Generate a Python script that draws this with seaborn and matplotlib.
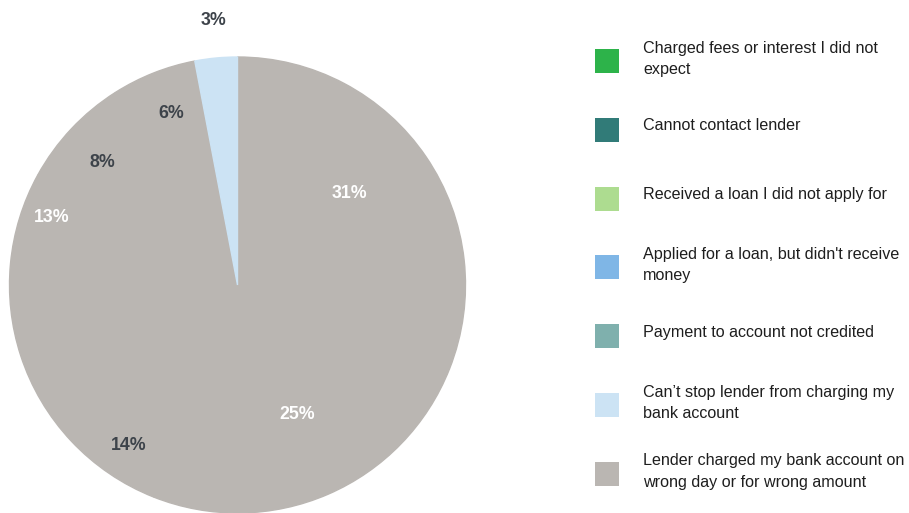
"""Pie chart of reported lender problems, with a hand-laid legend on the right."""

import matplotlib

matplotlib.use("Agg")
import matplotlib.pyplot as plt  # noqa: E402
import numpy as np  # noqa: E402
import seaborn as sns  # noqa: E402
from matplotlib.patches import Rectangle  # noqa: E402

sns.set_theme(style="white")
plt.rcParams["font.family"] = ["Liberation Sans", "DejaVu Sans"]

CATEGORIES = [
    "Charged fees or interest I did not\nexpect",
    "Cannot contact lender",
    "Received a loan I did not apply for",
    "Applied for a loan, but didn't receive\nmoney",
    "Payment to account not credited",
    "Can\u2019t stop lender from charging my\nbank account",
    "Lender charged my bank account on\nwrong day or for wrong amount",
]
LEGEND_COLORS = ["#2db34a", "#317b78", "#addc90", "#7fb6e6", "#7fb0ad", "#cce3f4", "#bab6b2"]

# slice values, clockwise from 12 o'clock
SHARES = [31, 25, 14, 13, 8, 6, 3]
SLICE_COLORS = ["#bab6b2"] * 6 + ["#cce3f4"]

# label styling (radius as fraction of pie radius, small angular nudge in degrees)
LABEL_COLORS = ["white", "white", "#3d434a", "white", "#3d434a", "#3d434a", "#3d434a"]
LABEL_RADIUS = [0.634, 0.627, 0.848, 0.865, 0.80, 0.805, 1.163]
LABEL_NUDGE = [-5.3, -1.2, -12.7, 14.5, -1.2, 0.3, 0.3]

W, H = 909, 513
fig = plt.figure(figsize=(W / 100, H / 100), dpi=100)

ax = fig.add_axes([9 / W, 0, 457 / W, 456 / H])
wedges, _ = ax.pie(SHARES, colors=SLICE_COLORS, startangle=90, counterclock=False,
                   wedgeprops=dict(linewidth=1))
for w in wedges:
    w.set_edgecolor(w.get_facecolor())
ax.set_xlim(-1, 1)
ax.set_ylim(-1, 1)
ax.set_aspect("equal")
ax.axis("off")

cum = np.cumsum([0] + SHARES[:-1])
total = sum(SHARES)
for share, start, col, rad, nudge in zip(SHARES, cum, LABEL_COLORS, LABEL_RADIUS, LABEL_NUDGE):
    theta = np.deg2rad((start + share / 2) / total * 360 + nudge)
    ax.text(rad * np.sin(theta), rad * np.cos(theta), f"{share}%",
            ha="center", va="center", fontsize=12.8, fontweight="bold",
            color=col, clip_on=False)

# legend
lax = fig.add_axes([0, 0, 1, 1])
lax.set_xlim(0, W)
lax.set_ylim(H, 0)
lax.axis("off")
for i, (label, col) in enumerate(zip(CATEGORIES, LEGEND_COLORS)):
    cy = 61 + i * 68.8
    lax.add_patch(Rectangle((595, cy - 12), 24, 24, color=col, linewidth=0))
    lax.text(643, cy - 4 if "\n" not in label else cy - 2, label, ha="left",
             va="center", fontsize=11.6, color="#1e1e1e",
             linespacing=1.6 if i == 6 else 1.5)

fig.savefig("out.png", dpi=100)
plt.close(fig)
